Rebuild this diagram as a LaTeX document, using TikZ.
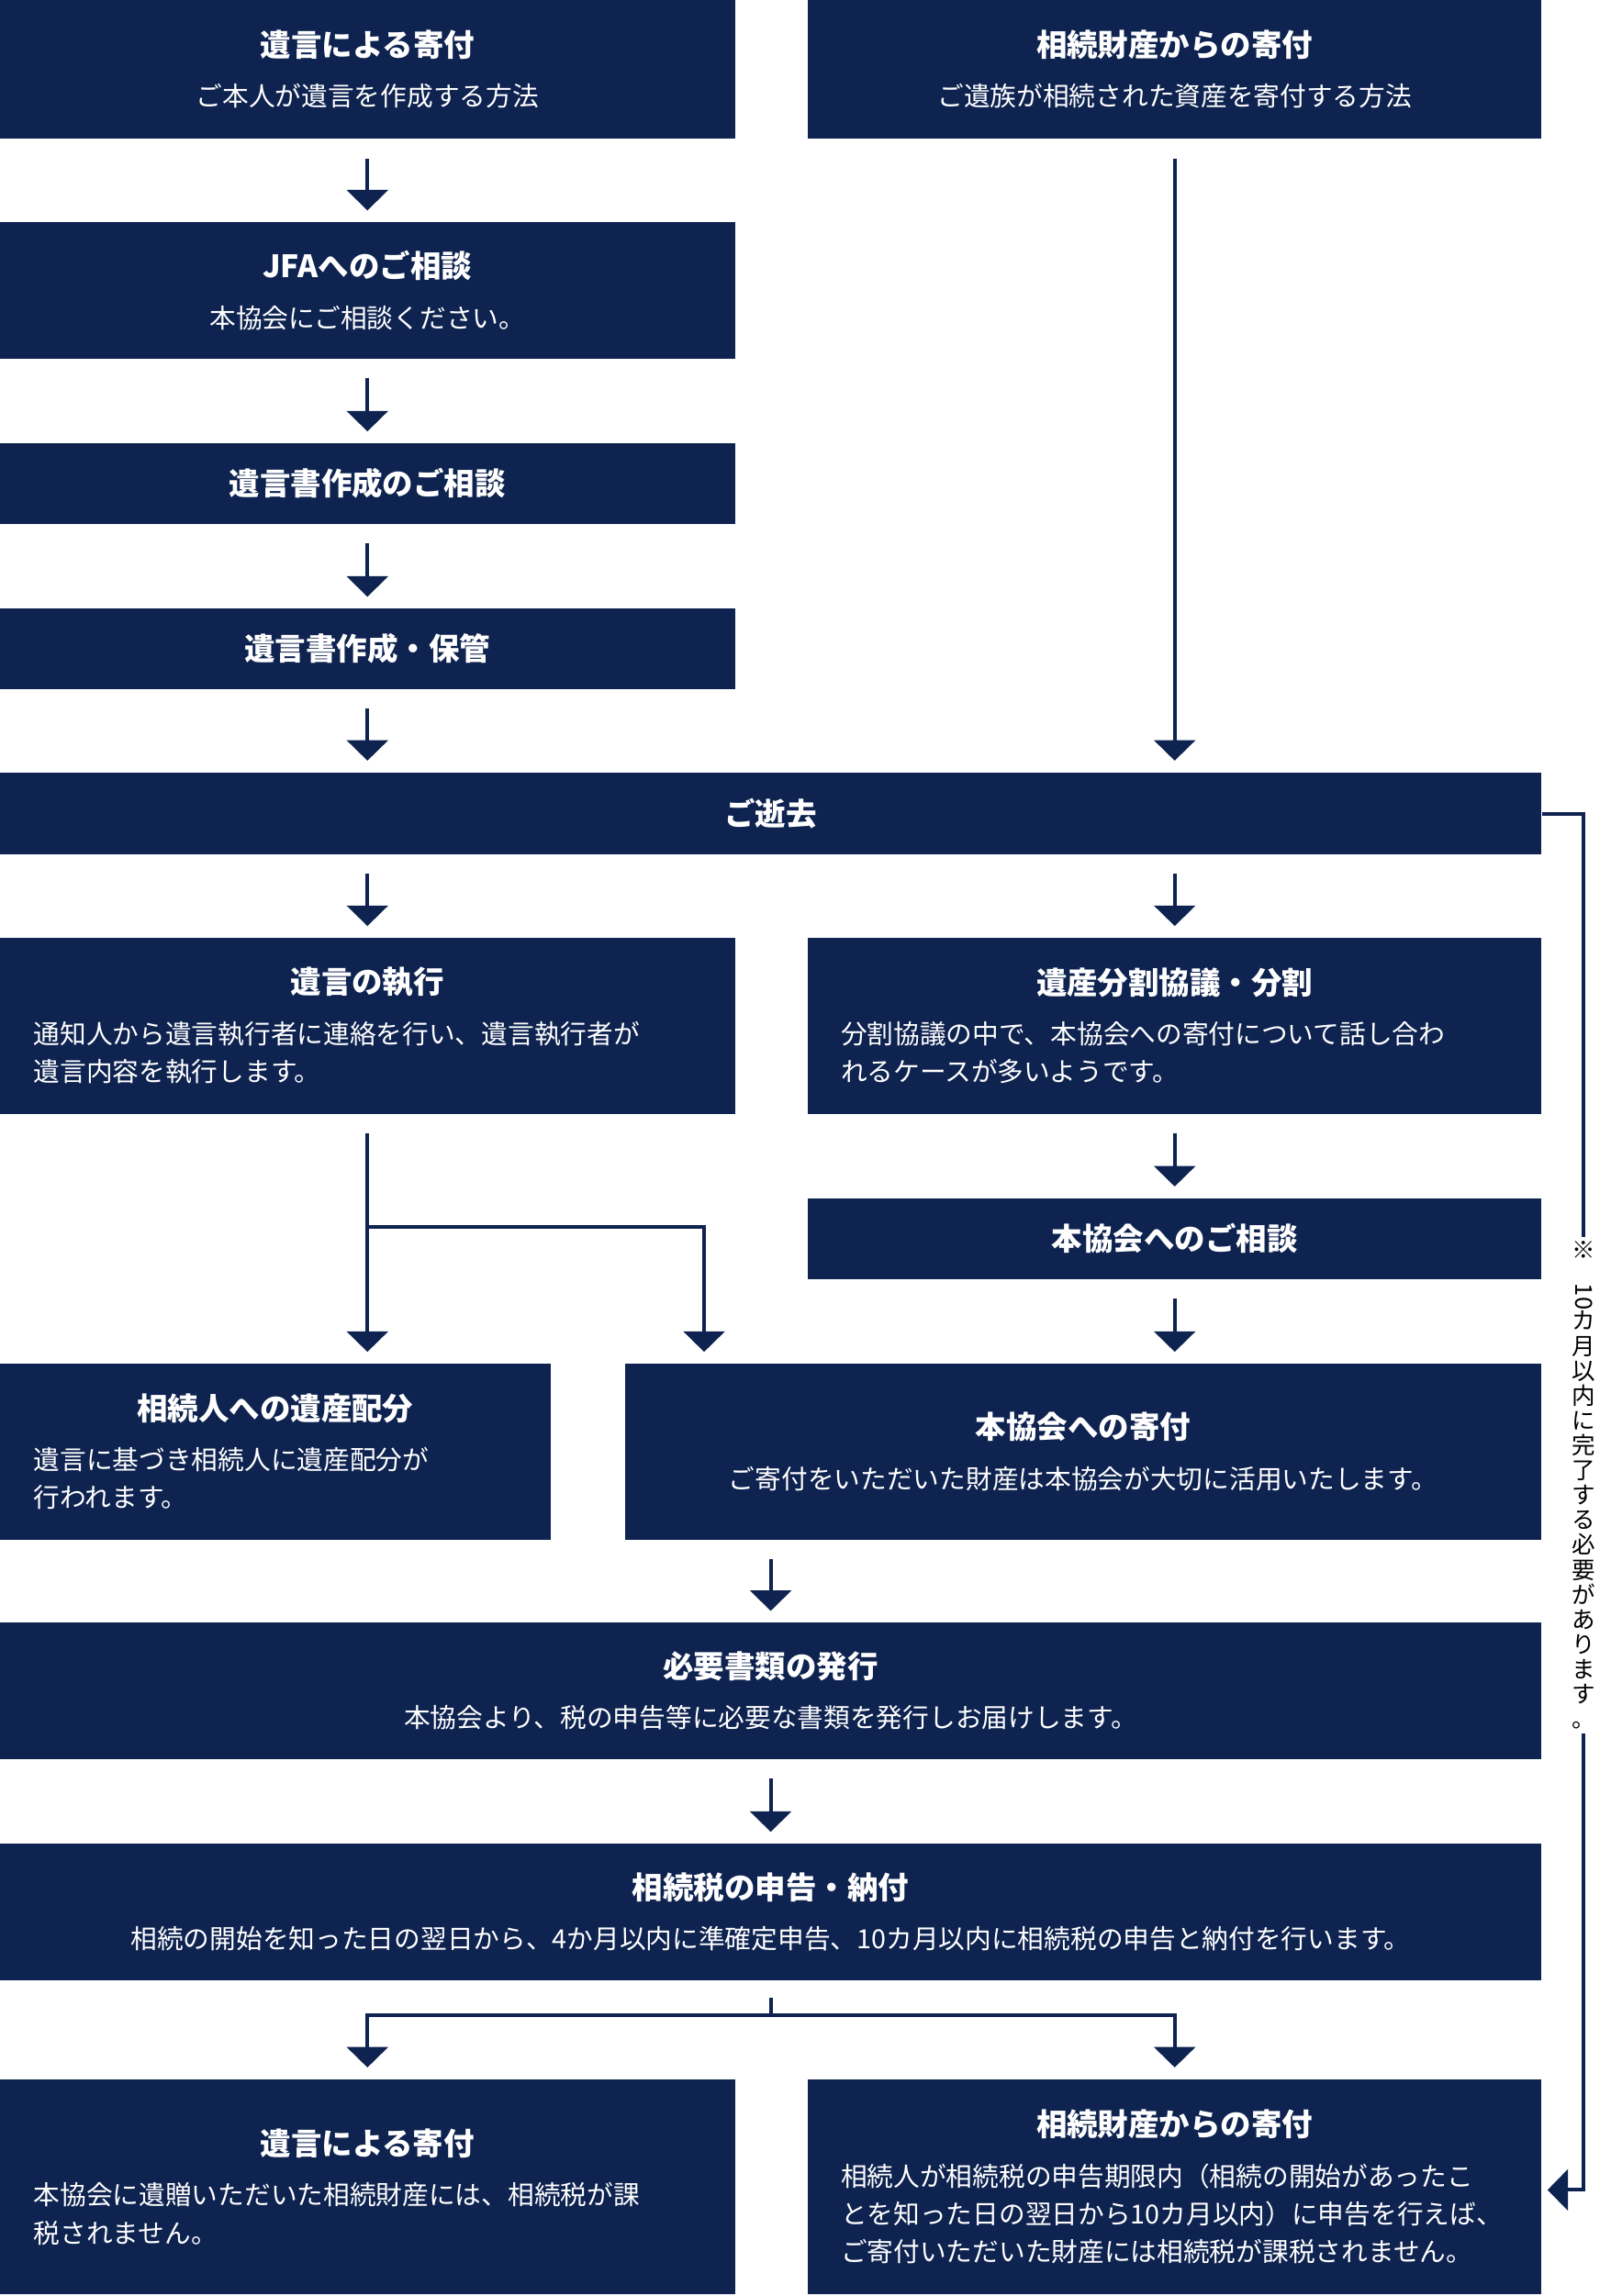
\documentclass[tikz,border=0pt]{standalone}
\usepackage{fontspec}
\setmainfont{Noto Sans CJK JP}
\usetikzlibrary{arrows.meta,calc}
\definecolor{navy}{HTML}{0E2350}
\newcommand{\ttl}[1]{{\centering\fontsize{21}{26}\selectfont\bfseries #1\par}\vspace{8pt}}
\newcommand{\bodyc}[1]{{\centering\fontsize{18}{26}\selectfont #1\par}}
\newcommand{\bodyl}[1]{{\raggedright\fontsize{18}{26}\selectfont #1\par}}
\begin{document}
\begin{tikzpicture}[x=1pt,y=-1pt]
\tikzset{box/.style = {fill=navy, text=white, inner sep=0pt, minimum height=#1, align=left}}
\tikzset{arr/.style = {draw=navy, line width=2.5pt, -{Triangle[width=28pt,length=14pt]}}}
\tikzset{link/.style = {draw=navy, line width=2.5pt}}
\useasboundingbox (0,0) rectangle (1100,1569);
% top row
\node[box=95pt, minimum width=502pt, text width=470pt] (will) at (251,47.5)
  {\ttl{遺言による寄付}\bodyc{ご本人が遺言を作成する方法}};
\node[box=95pt, minimum width=501pt, text width=470pt] (estate) at (802.5,47.5)
  {\ttl{相続財産からの寄付}\bodyc{ご遺族が相続された資産を寄付する方法}};
\node[box=93pt, minimum width=502pt, text width=470pt] (jfa) at (251,198.5)
  {\ttl{JFAへのご相談}\bodyc{本協会にご相談ください。}};
\node[box=55pt, minimum width=502pt, text width=470pt] (draft) at (251,330.5)
  {{\centering\fontsize{21}{26}\selectfont\bfseries 遺言書作成のご相談\par}};
\node[box=55pt, minimum width=502pt, text width=470pt] (keep) at (251,443.5)
  {{\centering\fontsize{21}{26}\selectfont\bfseries 遺言書作成・保管\par}};
\node[box=56pt, minimum width=1053pt, text width=1000pt] (death) at (526.5,556)
  {{\centering\fontsize{21}{26}\selectfont\bfseries ご逝去\par}};
% middle
\node[box=120pt, minimum width=502pt, text width=456pt] (exec) at (251,701)
  {\ttl{遺言の執行}\bodyl{通知人から遺言執行者に連絡を行い、遺言執行者が\\遺言内容を執行します。}};
\node[box=120pt, minimum width=501pt, text width=456pt] (split) at (802.5,701)
  {\ttl{遺産分割協議・分割}\bodyl{分割協議の中で、本協会への寄付について話し合わ\\れるケースが多いようです。}};
\node[box=55pt, minimum width=501pt, text width=470pt] (consult) at (802.5,846.5)
  {{\centering\fontsize{21}{26}\selectfont\bfseries 本協会へのご相談\par}};
\node[box=120pt, minimum width=376pt, text width=330pt] (dist) at (188,992)
  {\ttl{相続人への遺産配分}\bodyl{遺言に基づき相続人に遺産配分が\\行われます。}};
\node[box=120pt, minimum width=626pt, text width=590pt] (donate) at (740,992)
  {\ttl{本協会への寄付}\bodyc{ご寄付をいただいた財産は本協会が大切に活用いたします。}};
\node[box=93pt, minimum width=1053pt, text width=1020pt] (docs) at (526.5,1155.5)
  {\ttl{必要書類の発行}\bodyc{本協会より、税の申告等に必要な書類を発行しお届けします。}};
\node[box=93pt, minimum width=1053pt, text width=1040pt] (tax) at (526.5,1306.5)
  {\ttl{相続税の申告・納付}\bodyc{相続の開始を知った日の翌日から、4か月以内に準確定申告、10カ月以内に相続税の申告と納付を行います。}};
% bottom
\node[box=147pt, minimum width=502pt, text width=456pt] (res1) at (251,1494.5)
  {\ttl{遺言による寄付}\bodyl{本協会に遺贈いただいた相続財産には、相続税が課\\税されません。}};
\node[box=147pt, minimum width=501pt, text width=456pt] (res2) at (802.5,1494.5)
  {\ttl{相続財産からの寄付}\bodyl{相続人が相続税の申告期限内（相続の開始があったこ\\とを知った日の翌日から10カ月以内）に申告を行えば、\\ご寄付いただいた財産には相続税が課税されません。}};
% side note
\node[text=black, align=center, inner sep=3pt, font=\fontsize{16}{17}\selectfont] (note) at (1082,1015)
  {※\\\rotatebox{-90}{10}\\カ\\月\\以\\内\\に\\完\\了\\す\\る\\必\\要\\が\\あ\\り\\ま\\す\\。};
% arrows
\draw[arr] ($(will.south)+(0,13)$) -- ($(jfa.north)+(0,-8)$);
\draw[arr] ($(jfa.south)+(0,13)$) -- ($(draft.north)+(0,-8)$);
\draw[arr] ($(draft.south)+(0,13)$) -- ($(keep.north)+(0,-8)$);
\draw[arr] ($(keep.south)+(0,13)$) -- ($(keep.south |- death.north)+(0,-8)$);
\draw[arr] ($(estate.south)+(0,13)$) -- ($(estate.south |- death.north)+(0,-8)$);
\draw[arr] ($(exec.north |- death.south)+(0,13)$) -- ($(exec.north)+(0,-8)$);
\draw[arr] ($(split.north |- death.south)+(0,13)$) -- ($(split.north)+(0,-8)$);
\draw[arr] ($(split.south)+(0,13)$) -- ($(consult.north)+(0,-8)$);
\draw[arr] ($(consult.south)+(0,13)$) -- ($(consult.south |- donate.north)+(0,-8)$);
\draw[arr] ($(exec.south)+(0,13)$) -- ($(exec.south |- dist.north)+(0,-8)$);
\coordinate (fork) at ($(exec.south)+(0,77)$);
\coordinate (forkx) at (481,0);
\draw[arr] (fork) -| ($(forkx |- donate.north)+(0,-8)$);
\draw[arr] ($(docs.north |- donate.south)+(0,13)$) -- ($(docs.north)+(0,-8)$);
\draw[arr] ($(docs.south)+(0,13)$) -- ($(tax.north)+(0,-8)$);
\draw[link] ($(tax.south)+(0,12)$) -- ++(0,12) coordinate (split2);
\draw[arr] (split2) -| ($(res1.north)+(0,-8)$);
\draw[arr] (split2) -| ($(res2.north)+(0,-8)$);
\draw[link] (death.east) -| (note.north);
\draw[arr] (note.south) |- ($(res2.east)+(4,2)$);
\end{tikzpicture}
\end{document}
